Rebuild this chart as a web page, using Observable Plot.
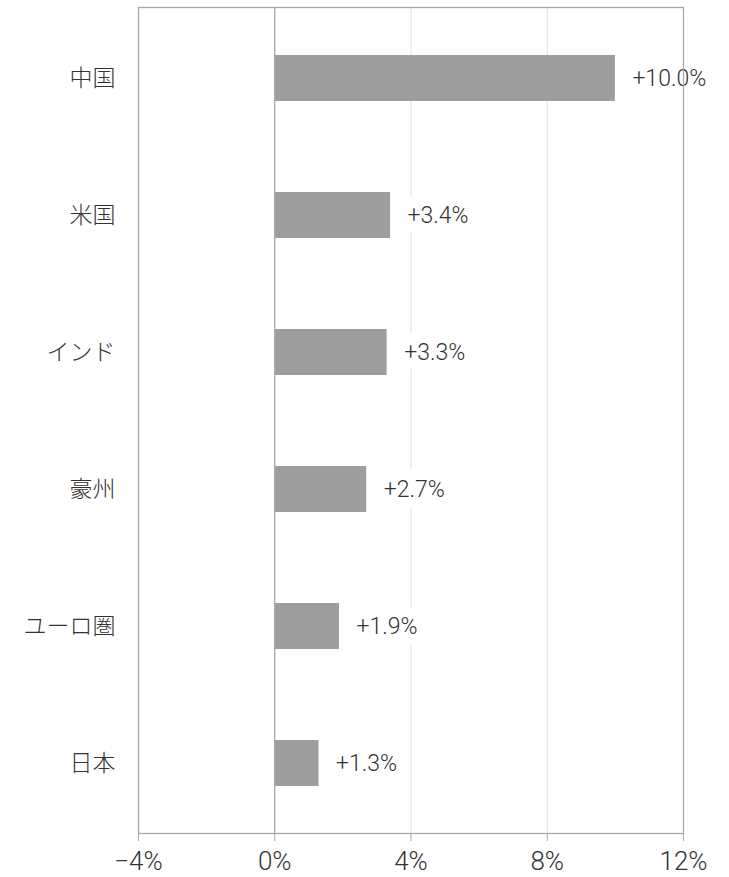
<!DOCTYPE html>
<html><head><meta charset="utf-8">
<script src="https://cdn.jsdelivr.net/npm/d3@7"></script>
<script src="https://cdn.jsdelivr.net/npm/@observablehq/plot@0.6"></script>
<style>body{margin:0;background:#fff}</style></head>
<body><div id="chart"></div>
<script>
const categories = ["中国", "米国", "インド", "豪州", "ユーロ圏", "日本"];
const values = [10.0, 3.4, 3.3, 2.7, 1.9, 1.3];
const valueLabels = ["+10.0%", "+3.4%", "+3.3%", "+2.7%", "+1.9%", "+1.3%"];
const xTicks = [-4, 0, 4, 8, 12];
const gridTicks = [4, 8];

const data = categories.map((c, i) => ({c, v: values[i], label: valueLabels[i]}));
const numFont = "Roboto, sans-serif";

const plot = Plot.plot({
  width: 729, height: 877,
  marginLeft: 138, marginRight: 46, marginTop: 7, marginBottom: 44,
  style: {fontFamily: numFont, background: "#fff", color: "#333"},
  x: {domain: [-4, 12], label: null},
  y: {domain: categories, paddingInner: 0.666, paddingOuter: 0.333, label: null},
  marks: [
    Plot.ruleX(gridTicks, {stroke: "#e2e2e2", strokeWidth: 1}),
    Plot.barX(data, {x: "v", y: "c", fill: "#9e9e9e"}),
    Plot.text(data, {x: "v", y: "c", text: "label", textAnchor: "start", dx: 17, fontSize: 23, fontWeight: 300, fill: "#333", stroke: "white", strokeWidth: 22, fontFamily: numFont}),
    Plot.ruleX([0], {stroke: "#a8a8a8", strokeWidth: 1.3}),
    Plot.frame({stroke: "#a8a8a8", strokeWidth: 1.3}),
    Plot.axisX(xTicks, {tickSize: 8, tickPadding: 10, stroke: "#a8a8a8", fill: "#333", fontSize: 26, fontWeight: 300, label: null,
      tickFormat: d => (d < 0 ? "\u2212" : "") + Math.abs(d) + "%"}),
    Plot.axisY({tickSize: 0, tickPadding: 23, fill: "#333", fontSize: 23, fontWeight: 300, label: null, fontFamily: "'Noto Sans CJK JP', sans-serif"})
  ]
});
document.getElementById("chart").appendChild(plot);
</script>
</body></html>
